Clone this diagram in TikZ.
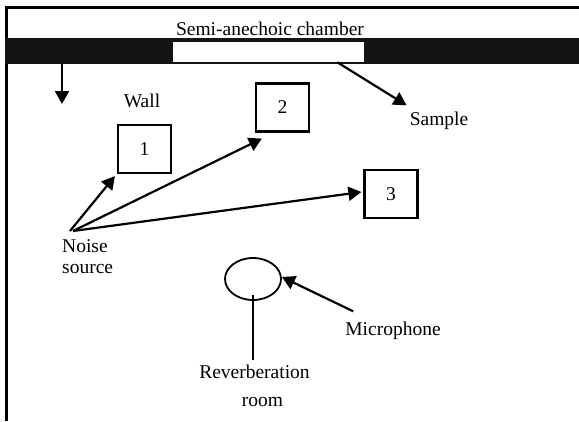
\documentclass[tikz,border=0pt]{standalone}
\usepackage{fontspec}
\setmainfont{Liberation Serif}
\usetikzlibrary{positioning,arrows.meta,shapes.geometric}

\begin{document}
\begin{tikzpicture}[
    x=1pt, y=-1pt,
    % Define styles for the different kinds of nodes
    every node/.style={font=\fontsize{19.5}{22}\selectfont, inner sep=0pt},
    frame/.style={line width=3pt},
    wallband/.style={rectangle, fill=black!92, minimum width=574pt, minimum height=26pt},
    samplebox/.style={rectangle, fill=white, minimum width=191pt, minimum height=20pt},
    posbox/.style={rectangle, draw, line width=2.2pt, minimum width=53pt, minimum height=48pt},
    micshape/.style={ellipse, draw, line width=1.8pt, minimum width=56pt, minimum height=42pt},
    arrow/.style={-{Triangle[length=13pt,width=14pt]}, line width=2.2pt},
    stem/.style={line width=2.5pt},
    txt/.style={align=center}
]
    \useasboundingbox (0,0) rectangle (579,421);

    % Room outline and wall
    \draw[frame] (6.5,421) -- (6.5,7) -- (579,7);
    \node[wallband] (band) at (292,51) {};
    \node[samplebox] (sample) at (268.5,52) {};

    % Labels
    \node[txt, anchor=base] (chamber) at (270,35) {Semi-anechoic chamber};
    \node[txt, anchor=base] (wall) at (142,107) {Wall};
    \node[txt, anchor=base] (samplelbl) at (439,125) {Sample};
    \node[txt, anchor=base west, align=left] (noise) at (62,273) {Noise\\[-1pt]source};
    \node[txt, anchor=base] (miclbl) at (393,335) {Microphone};
    \node[txt, anchor=base] (reverb) at (254.5,406) {Reverberation\\[6pt]\hspace*{16pt}room};

    % Source positions
    \node[posbox] (p1) at (144.5,149) {1};
    \node[posbox] (p2) at (282.5,107.5) {2};
    \node[posbox] (p3) at (391,194) {3};

    % Microphone
    \node[micshape] (m) at (253,279) {};

    % Wall arrow
    \coordinate (walltip) at (62,104);
    \draw[arrow] (band.south -| walltip) -- (walltip);

    % Sample arrow
    \draw[arrow] ([xshift=-27pt]sample.south east) -- ([xshift=-3pt,yshift=6pt]samplelbl.north west);

    % Noise source to positions
    \coordinate (src) at (73,231);
    \draw[arrow] ([xshift=-3pt]src) -- ([xshift=-2pt,yshift=-2pt]p1.south west);
    \draw[arrow] (src) -- ([xshift=7pt,yshift=-6pt]p2.south west);
    \draw[arrow] (src) -- ([xshift=-2pt,yshift=2pt]p3.west);

    % Microphone arrow and stand
    \draw[arrow] ([xshift=8pt,yshift=10pt]miclbl.north west) -- ([yshift=2pt]m.east);
    \draw[stem] ([yshift=6pt]m.south -| 253,0) -- ([yshift=4pt]reverb.north -| 253,0);
\end{tikzpicture}
\end{document}
